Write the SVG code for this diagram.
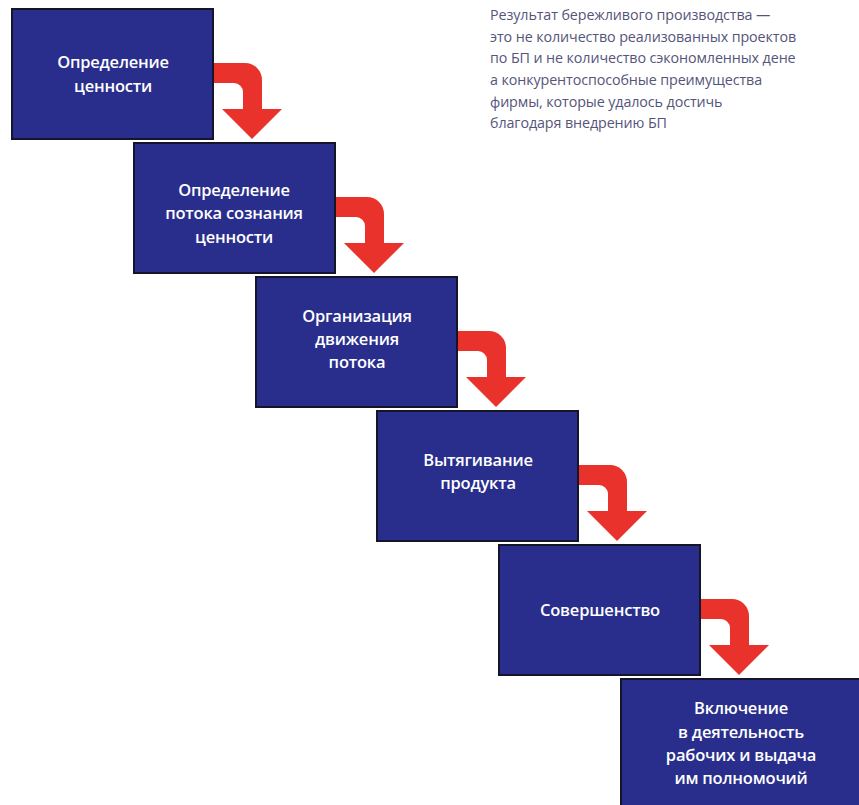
<svg xmlns="http://www.w3.org/2000/svg" width="859" height="805" viewBox="0 0 859 805">
<defs>
<style>
.box{fill:#292e8c;stroke:#15152a;stroke-width:2}
.lbl{font-family:"Open Sans","Liberation Sans",sans-serif;font-size:16.5px;font-weight:600;fill:#ffffff;text-anchor:middle;letter-spacing:-0.2px}
.note{font-family:"Open Sans","Liberation Sans",sans-serif;font-size:14.3px;fill:#55557a;letter-spacing:-0.1px}
.arr{fill:#e8322b}
</style>
<path id="arrow" d="M -2 54 L 32 54 A 17 17 0 0 1 49 71 L 49 100 L 69 100 L 39 130 L 9 100 L 30 100 L 30 83 A 9 9 0 0 0 21 74 L -2 74 Z"/>
</defs>
<rect width="859" height="805" fill="#ffffff"/>
<g id="connectors" class="arr">
<use href="#arrow" transform="translate(213,9)"/>
<use href="#arrow" transform="translate(335,143)"/>
<use href="#arrow" transform="translate(457,277)"/>
<use href="#arrow" transform="translate(578,411)"/>
<use href="#arrow" transform="translate(700,545)"/>
</g>
<g id="n1"><rect class="box" x="12" y="9" width="201" height="130"/>
<text class="lbl"><tspan x="113" y="68">Определение</tspan><tspan x="113" y="92">ценности</tspan></text></g>
<g id="n2"><rect class="box" x="134" y="143" width="201" height="130"/>
<text class="lbl"><tspan x="234" y="196">Определение</tspan><tspan x="234" y="219">потока сознания</tspan><tspan x="234" y="243">ценности</tspan></text></g>
<g id="n3"><rect class="box" x="256" y="277" width="201" height="130"/>
<text class="lbl"><tspan x="357" y="322">Организация</tspan><tspan x="357" y="345">движения</tspan><tspan x="357" y="368">потока</tspan></text></g>
<g id="n4"><rect class="box" x="377" y="411" width="201" height="130"/>
<text class="lbl"><tspan x="478" y="466">Вытягивание</tspan><tspan x="478" y="489">продукта</tspan></text></g>
<g id="n5"><rect class="box" x="499" y="545" width="201" height="130"/>
<text class="lbl"><tspan x="600" y="616">Совершенство</tspan></text></g>
<g id="n6"><rect class="box" x="621" y="679" width="245" height="140"/>
<text class="lbl"><tspan x="741" y="714">Включение</tspan><tspan x="741" y="738">в деятельность</tspan><tspan x="741" y="761">рабочих и выдача</tspan><tspan x="741" y="784">им полномочий</tspan></text></g>
<g id="note">
<text class="note"><tspan x="490" y="20">Результат бережливого производства —</tspan><tspan x="490" y="42">это не количество реализованных проектов</tspan><tspan x="490" y="63">по БП и не количество сэкономленных дене</tspan><tspan x="490" y="85">а конкурентоспособные преимущества</tspan><tspan x="490" y="107">фирмы, которые удалось достичь</tspan><tspan x="490" y="128">благодаря внедрению БП</tspan></text>
</g>
</svg>
